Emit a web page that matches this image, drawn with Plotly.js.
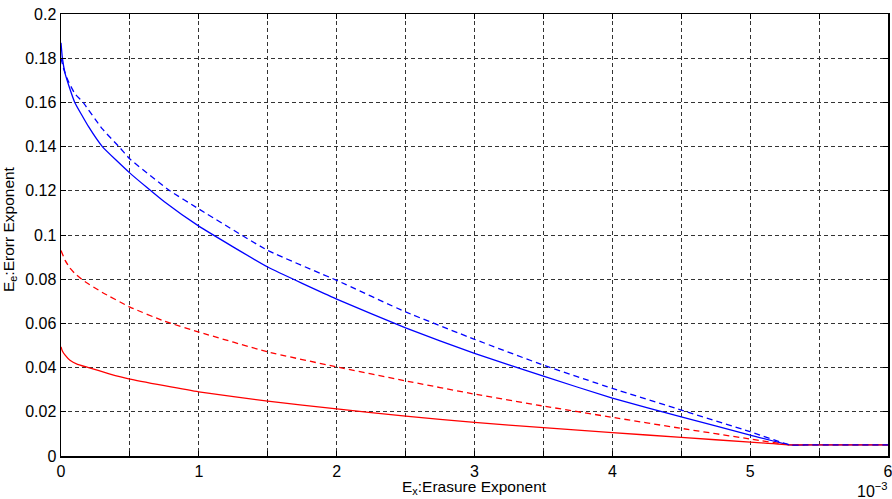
<!DOCTYPE html>
<html>
<head>
<meta charset="utf-8">
<script src="https://cdn.plot.ly/plotly-3.0.1.min.js"></script>
<style>html,body{margin:0;padding:0;background:#fff;}#chart{width:892px;height:499px;}</style>
</head>
<body>
<div id="chart"></div>
<script>
// x values in units of 1e-3
const blueSolidX = [0,0.01,0.03,0.06,0.1,0.2,0.3,0.5,0.75,1,1.5,2,2.5,3,3.5,4,4.5,5,5.29,5.4,5.6,6];
const blueSolidY = [0.187,0.180,0.173,0.167,0.160,0.149,0.140,0.128,0.115,0.104,0.0855,0.071,0.058,0.0464,0.0361,0.0262,0.0177,0.0095,0.005,0.005,0.005,0.005];

const blueDashX = [0,0.02,0.05,0.1,0.16,0.3,0.42,0.5,0.79,1,1.5,2,2.5,3,3.5,4,4.5,5,5.29,5.4,5.6,6];
const blueDashY = [0.180,0.175,0.170,0.164,0.160,0.148,0.140,0.1344,0.120,0.1118,0.093,0.0795,0.0652,0.0528,0.0411,0.0306,0.0208,0.011,0.005,0.005,0.005,0.005];

const redDashX = [0,0.03,0.065,0.1,0.16,0.3,0.5,0.75,1,1.5,2,2.5,3,3.5,4,4.5,5,5.29,5.4,5.6,6];
const redDashY = [0.093,0.0885,0.085,0.0826,0.0795,0.074,0.0674,0.061,0.0561,0.0471,0.0403,0.034,0.028,0.0226,0.0175,0.0125,0.0077,0.005,0.005,0.005,0.005];

const redSolidX = [0,0.01,0.03,0.065,0.12,0.2,0.35,0.5,0.75,1,1.5,2,2.5,3,3.5,4,4.5,5,5.29,5.4,5.6,6];
const redSolidY = [0.0494,0.0475,0.0456,0.0433,0.0415,0.040,0.0372,0.0348,0.0318,0.029,0.0248,0.0213,0.018,0.0152,0.0128,0.0106,0.0084,0.0063,0.005,0.005,0.005,0.005];

const xTickVals = [0,0.5,1,1.5,2,2.5,3,3.5,4,4.5,5,5.5,6];
const xTickText = ["0","","1","","2","","3","","4","","5","","6"];
const yTickVals = [0,0.02,0.04,0.06,0.08,0.1,0.12,0.14,0.16,0.18,0.2];
const yTickText = ["0","0.02","0.04","0.06","0.08","0.1","0.12","0.14","0.16","0.18","0.2"];

const dashPat = "6px,4px";
const lineShape = {shape: "spline", smoothing: 0.4};
const traces = [
  {x: blueSolidX, y: blueSolidY, mode: "lines", line: Object.assign({color: "#0000ff", width: 1.3}, lineShape)},
  {x: redSolidX, y: redSolidY, mode: "lines", line: Object.assign({color: "#ff0000", width: 1.3}, lineShape)},
  {x: redDashX, y: redDashY, mode: "lines", line: Object.assign({color: "#ff0000", width: 1.3, dash: dashPat}, lineShape)},
  {x: blueDashX, y: blueDashY, mode: "lines", line: Object.assign({color: "#0000ff", width: 1.3, dash: dashPat}, lineShape)}
];

const font = {family: "Liberation Sans, Arial, Helvetica, sans-serif", size: 16, color: "#000"};
const titleFont = {family: "Liberation Sans, Arial, Helvetica, sans-serif", size: 15.5, color: "#000"};
const axisCommon = {
  showline: true, mirror: "ticks", linecolor: "#000", linewidth: 1.5,
  ticks: "inside", ticklen: 5, tickcolor: "#000", tickwidth: 1,
  showgrid: true, gridcolor: "#333", gridwidth: 1, griddash: "4px,3px",
  zeroline: false, tickfont: font, fixedrange: true, ticklabeloverflow: "allow"
};

const layout = {
  width: 892, height: 499,
  margin: {l: 61, r: 4, t: 14, b: 43},
  paper_bgcolor: "#fff", plot_bgcolor: "#fff",
  showlegend: false,
  font: font,
  xaxis: Object.assign({}, axisCommon, {range: [0, 6], tickmode: "array", tickvals: xTickVals, ticktext: xTickText}),
  yaxis: Object.assign({}, axisCommon, {range: [0, 0.2], tickmode: "array", tickvals: yTickVals, ticktext: yTickText}),
  annotations: [
    {text: "E<sub>x</sub>:Erasure Exponent", xref: "paper", yref: "paper", x: 0.5, y: 0, xanchor: "center", yanchor: "top", yshift: -20, showarrow: false, font: titleFont},
    {text: "E<sub>e</sub>:Erorr Exponent", xref: "paper", yref: "paper", x: 0, y: 0.5, xanchor: "center", yanchor: "middle", xshift: -52, yshift: 6, textangle: -90, showarrow: false, font: titleFont},
    {text: "10<sup>−3</sup>", xref: "paper", yref: "paper", x: 1, y: 0, xanchor: "right", yanchor: "top", xshift: 2, yshift: -22, showarrow: false, font: font}
  ]
};

Plotly.newPlot("chart", traces, layout, {displayModeBar: false, staticPlot: true});
</script>
</body>
</html>
